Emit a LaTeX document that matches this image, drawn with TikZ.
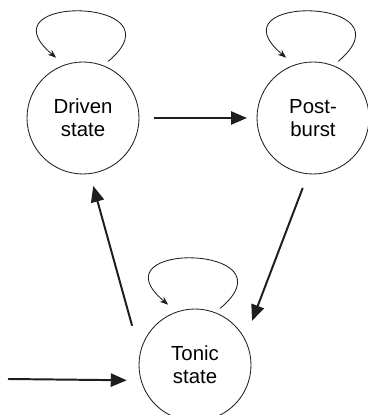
\documentclass[tikz,border=0pt]{standalone}
\usepackage{fontspec}
\setmainfont{Liberation Sans}
\usepackage{tikz}
\usetikzlibrary{arrows.meta, positioning}
\definecolor{linegray}{RGB}{30, 30, 30}

\begin{document}
\begin{tikzpicture}[
        state/.style={circle, draw=linegray, line width=0.6pt, minimum size=2.8cm,
            inner sep=0pt, outer sep=0pt, align=center,
            font=\fontsize{14.5}{16.5}\selectfont},
        trans/.style={-{Triangle[length=0.4cm, width=0.33cm]}, line width=1.4pt, draw=linegray},
        selfloop/.style={-{Stealth[length=6pt, width=4.5pt]}, line width=0.6pt, draw=linegray}
    ]
    \useasboundingbox (0, 0) rectangle (9.175, 10.375);

    % States
    \node[state] (driven) at (2.075, 7.425) {Driven\\state};
    \node[state] (post) at (7.825, 7.425) {Post-\\burst};
    \node[state] (tonic) at (4.875, 1.25) {Tonic\\state};

    % External input
    \coordinate (input) at (0.2, 0.9);

    % Self loops
    \foreach \s in {driven, post, tonic} {
        \draw[selfloop] ([shift={(66:1.55)}]\s.center)
            .. controls +(40:2.5) and +(140:2.5) .. ([shift={(114:1.65)}]\s.center);
    }

    % Transitions
    \draw[trans, shorten <=0.375cm, shorten >=0.25cm] (driven) -- (post);
    \draw[trans, shorten <=0.38cm, shorten >=0.5cm] (post.265) -- (tonic.27);
    \draw[trans, shorten <=0.74cm, shorten >=0.32cm] (tonic.169) -- (driven.277);
    \draw[trans, shorten >=0.36cm] (input) -- (tonic.196);
\end{tikzpicture}
\end{document}
